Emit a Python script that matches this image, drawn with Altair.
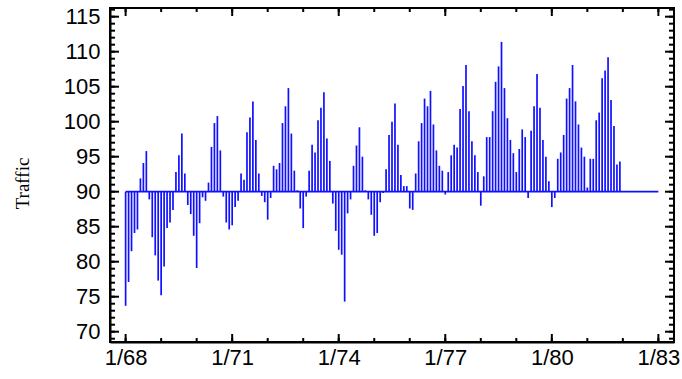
import altair as alt
import pandas as pd

# Monthly traffic, Jan 1968 - Dec 1981
traffic_1968 = [73.7, 77.1, 81.5, 84.1, 84.6, 91.9, 94.1, 95.8, 88.9, 83.5, 80.9, 77.3]
traffic_1969 = [75.2, 79.3, 84.8, 85.6, 87.4, 92.8, 95.2, 98.3, 92.6, 88.1, 86.8, 83.7]
traffic_1970 = [79.1, 85.5, 89.2, 88.7, 91.3, 96.4, 99.8, 100.8, 95.9, 89.3, 85.6, 84.6]
traffic_1971 = [85.2, 87.8, 88.7, 92.6, 91.7, 98.5, 100.6, 102.9, 97.4, 92.6, 89.4, 88.5]
traffic_1972 = [86.0, 89.1, 93.7, 93.2, 94.1, 99.8, 102.2, 104.8, 98.3, 93.0, 90.2, 87.6]
traffic_1973 = [84.8, 89.3, 93.0, 96.7, 95.6, 100.2, 102.0, 104.2, 97.6, 94.4, 88.3, 84.4]
traffic_1974 = [81.7, 81.0, 74.3, 86.9, 88.9, 93.7, 96.6, 99.2, 95.0, 90.2, 88.9, 86.7]
traffic_1975 = [83.7, 84.1, 88.5, 89.8, 93.2, 98.1, 100.0, 102.6, 96.7, 92.4, 90.8, 90.8]
traffic_1976 = [87.6, 87.4, 92.6, 97.2, 99.8, 103.3, 102.2, 104.4, 99.6, 95.9, 93.7, 93.0]
traffic_1977 = [89.6, 92.8, 95.2, 96.7, 96.3, 101.8, 105.1, 108.1, 101.5, 97.2, 95.2, 92.8]
traffic_1978 = [88.0, 92.2, 97.8, 97.8, 101.5, 105.7, 107.9, 111.4, 104.8, 100.5, 97.4, 95.5]
traffic_1979 = [92.8, 96.1, 98.9, 97.8, 89.1, 98.7, 102.2, 106.8, 102.0, 97.4, 95.0, 91.5]
traffic_1980 = [87.8, 89.1, 94.7, 95.6, 98.1, 103.3, 104.8, 108.1, 102.9, 99.6, 96.3, 95.0]
traffic_1981 = [90.6, 94.7, 94.7, 100.2, 101.3, 106.2, 107.3, 109.2, 103.1, 99.4, 93.9, 94.3]

start_year = 1968
baseline_level = 90
baseline_end = 1983

x_label_years = [1968, 1971, 1974, 1977, 1980, 1983]
x_minor_years = list(range(1968, 1984))
y_major = [70, 75, 80, 85, 90, 95, 100, 105, 110, 115]
y_minor = list(range(69, 117))

all_years = [traffic_1968, traffic_1969, traffic_1970, traffic_1971, traffic_1972,
             traffic_1973, traffic_1974, traffic_1975, traffic_1976, traffic_1977,
             traffic_1978, traffic_1979, traffic_1980, traffic_1981]
values = [v for yr in all_years for v in yr]
times = [start_year + i / 12 for i in range(len(values))]
df = pd.DataFrame({"t": times, "traffic": values, "base": [baseline_level] * len(values)})

W, H = 564, 334
BLUE = "#1010ff"
FONT = "Liberation Sans"

xscale = alt.Scale(domain=[1967.56, 1983.44], nice=False, zero=False)
yscale = alt.Scale(domain=[68.53, 116.24], nice=False, zero=False)

xaxis = alt.Axis(values=x_label_years,
                 labelExpr='"1/" + format(datum.value % 100, "02d")',
                 title="", ticks=False, grid=False,
                 domain=True, domainColor="black", domainWidth=2,
                 labelFont=FONT, labelFontSize=22, labelColor="black",
                 labelPadding=5, labelOverlap=False, labelFlush=False)
yaxis = alt.Axis(values=y_major, title="Traffic",
                 ticks=False, grid=False,
                 domain=True, domainColor="black", domainWidth=2,
                 labelFont=FONT, labelFontSize=22, labelColor="black",
                 labelPadding=10, labelOverlap=False, labelFlush=False,
                 titleFont="Liberation Serif", titleFontSize=19, titleFontWeight="normal",
                 titleColor="black", titleAlign="center", titleBaseline="middle",
                 titleX=-88, titleY=H / 2 + 8)


def X(field):
    return alt.X(field, type="quantitative", scale=xscale, axis=xaxis)


def Y(field):
    return alt.Y(field, type="quantitative", scale=yscale, axis=yaxis)


bars = alt.Chart(df).mark_rule(color=BLUE, strokeWidth=1.7).encode(
    x=X("t"), y=Y("traffic"), y2=alt.Y2("base:Q"),
)

base_df = pd.DataFrame({"start": [start_year], "end": [baseline_end], "level": [baseline_level]})
baseline = alt.Chart(base_df).mark_rule(color=BLUE, strokeWidth=1.7).encode(
    x=X("start"), x2=alt.X2("end:Q"), y=Y("level"),
)

layers = [bars, baseline]


def y_ticks(vals, length, side):
    d = pd.DataFrame({"v": vals})
    if side == "left":
        xs = dict(x=alt.value(0), x2=alt.value(length))
    else:
        xs = dict(x=alt.value(W), x2=alt.value(W - length))
    return alt.Chart(d).mark_rule(color="black", strokeWidth=2).encode(y=Y("v"), **xs)


def x_ticks(vals, length, side):
    d = pd.DataFrame({"v": vals})
    if side == "bottom":
        ys = dict(y=alt.value(H), y2=alt.value(H - length))
    else:
        ys = dict(y=alt.value(0), y2=alt.value(length))
    return alt.Chart(d).mark_rule(color="black", strokeWidth=2).encode(x=X("v"), **ys)


for side in ["left", "right"]:
    layers.append(y_ticks(y_minor, 5, side))
    layers.append(y_ticks(y_major, 9, side))
for side in ["bottom", "top"]:
    layers.append(x_ticks(x_minor_years, 4, side))
    layers.append(x_ticks(x_label_years, 8, side))

# top and right frame edges, placed through the scales at the domain limits
frame_df = pd.DataFrame({"x0": [xscale.domain[0]], "x1": [xscale.domain[1]],
                         "y0": [yscale.domain[0]], "y1": [yscale.domain[1]]})
top_edge = alt.Chart(frame_df).mark_rule(color="black", strokeWidth=2).encode(
    x=X("x0"), x2=alt.X2("x1:Q"), y=Y("y1"))
right_edge = alt.Chart(frame_df).mark_rule(color="black", strokeWidth=2).encode(
    x=X("x1"), y=Y("y0"), y2=alt.Y2("y1:Q"))
layers += [top_edge, right_edge]

chart = alt.layer(*layers).properties(
    width=W, height=H,
    autosize=alt.AutoSizeParams(type="none"),
    padding={"left": 110, "top": 8, "right": 8, "bottom": 37},
    background="white",
).configure_view(stroke="black", strokeWidth=2)

chart.save("out.html", embed_options={"renderer": "svg", "actions": False})
